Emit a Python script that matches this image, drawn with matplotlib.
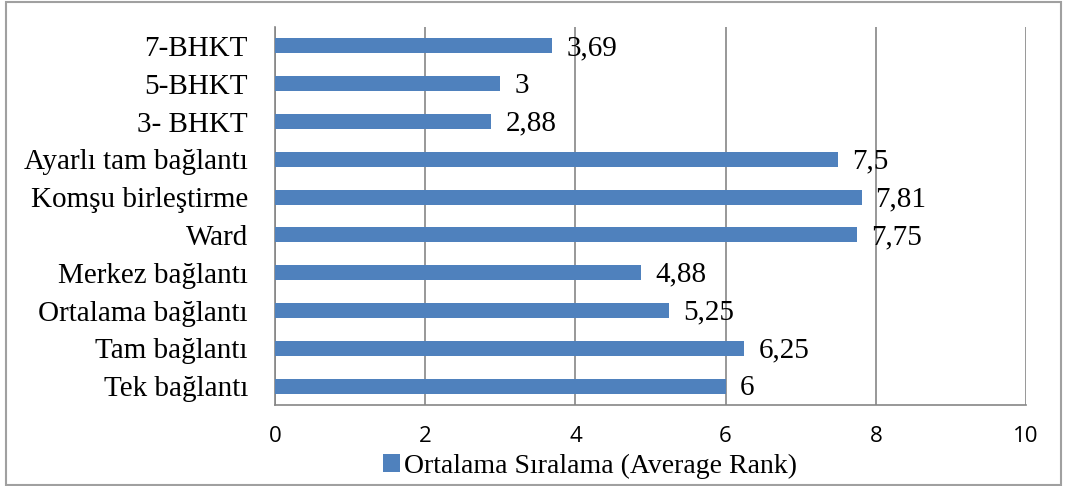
import matplotlib.pyplot as plt
from matplotlib.patches import Rectangle

categories = ['Tek bağlantı', 'Tam bağlantı', 'Ortalama bağlantı', 'Merkez bağlantı',
              'Ward', 'Komşu birleştirme', 'Ayarlı tam bağlantı', '3- BHKT', '5-BHKT', '7-BHKT']
values = [6, 6.25, 5.25, 4.88, 7.75, 7.81, 7.5, 2.88, 3, 3.69]
value_labels = ['6', '6,25', '5,25', '4,88', '7,75', '7,81', '7,5', '2,88', '3', '3,69']
x_ticks = [0, 2, 4, 6, 8, 10]

serif = ['Liberation Serif', 'DejaVu Serif']
bar_color = '#4f81bd'
grid_color = '#868686'

fig = plt.figure(figsize=(10.67, 4.86), dpi=100)
ax = fig.add_axes([275 / 1067, 81 / 486, 751 / 1067, 378 / 486])

pos = list(range(len(categories)))
ax.barh(pos, values, height=0.4, color=bar_color, label='Ortalama Sıralama (Average Rank)', zorder=3)
for p, v, t in zip(pos, values, value_labels):
    ax.annotate(t, (v, p), xytext=(14, -2), textcoords='offset pixels', va='center', ha='left',
                fontsize=21, family=serif, zorder=4)

ax.set_xlim(0, 10)
ax.set_ylim(-0.5, len(categories) - 0.5)
ax.set_xticks(x_ticks)
ax.set_xticklabels([str(t) for t in x_ticks], family=['Open Sans', 'DejaVu Sans'], fontsize=16)
ax.set_yticks(pos)
ax.set_yticklabels(categories, family=serif, fontsize=21)
ax.tick_params(axis='both', length=0)
ax.tick_params(axis='x', pad=15)
ax.tick_params(axis='y', pad=19.5)
ax.xaxis.grid(True, color=grid_color, linewidth=1.2, zorder=0)
for s in ['top', 'right']:
    ax.spines[s].set_visible(False)
for s in ['left', 'bottom']:
    ax.spines[s].set_color(grid_color)
    ax.spines[s].set_linewidth(1.2)

leg = fig.legend(loc='center', bbox_to_anchor=(590 / 1067, 1 - 466 / 486), frameon=False,
                 prop={'family': serif, 'size': 20}, handlelength=0.6, handleheight=0.6,
                 handletextpad=0.15, borderpad=0)

fig.patches.append(Rectangle((6 / 1067, 1 / 486), 1055 / 1067, 483 / 486, transform=fig.transFigure,
                             fill=False, edgecolor='#a0a0a0', linewidth=1.5))

plt.savefig('out.png', dpi=100)
plt.close()
